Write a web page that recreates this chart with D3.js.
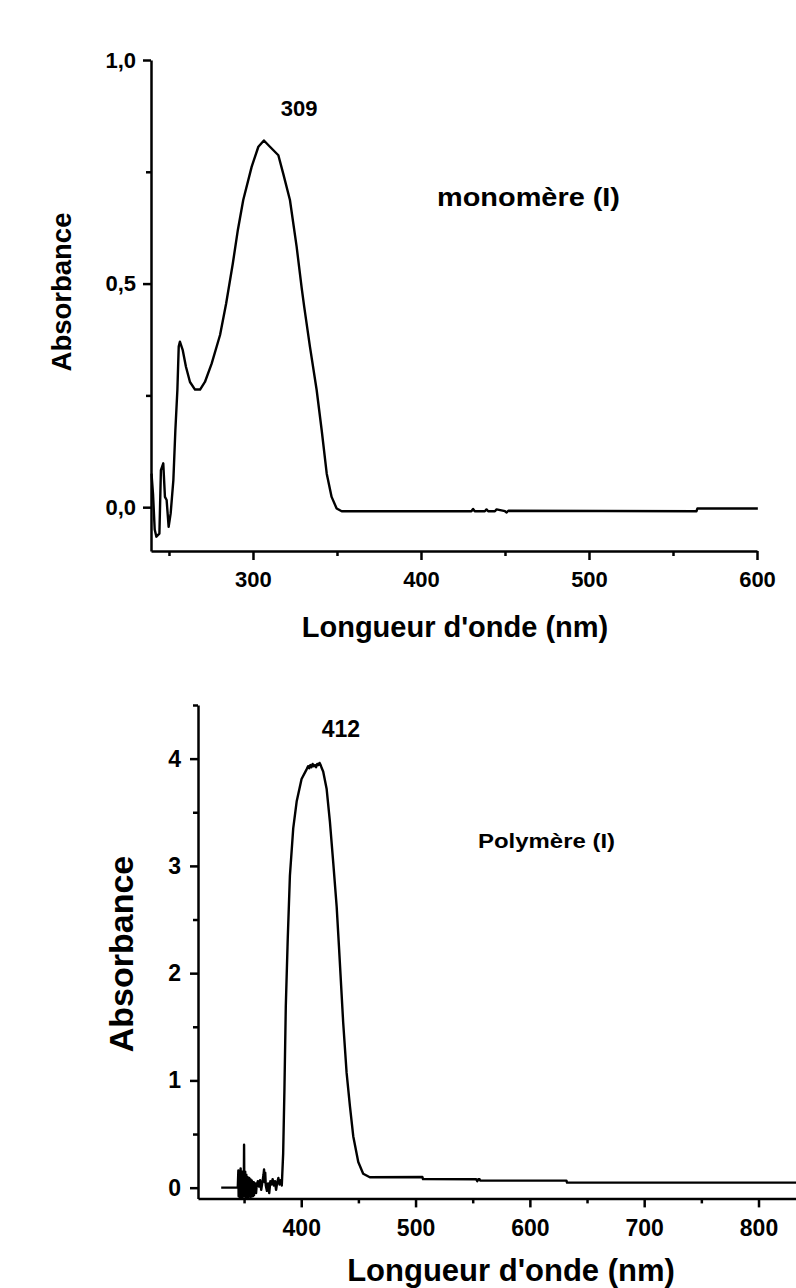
<!DOCTYPE html>
<html>
<head>
<meta charset="utf-8">
<script src="https://cdn.jsdelivr.net/npm/d3@7"></script>
<style>
  body { margin: 0; background: #fff; }
  svg { display: block; font-family: "Liberation Sans", Arial, sans-serif; font-weight: bold; }
</style>
</head>
<body>
<div id="chart"></div>
<script>
// monomère (I) spectrum
var monoNm = [239.6, 240.5, 241.5, 242.5, 243.5, 244.3, 245.2, 246.6, 247.6, 248.6, 249.8, 251, 252.6, 253.8, 255, 255.8, 256.5, 258.2, 260.1, 262.5,
  265.5, 268.5, 271.4, 275.4, 280.4, 284, 288, 291, 294.2, 299.2, 303.2, 306.5, 310.1, 315.1, 318, 322, 326, 329, 330.5, 333.9,
  337.9, 340.9, 343.9, 346.8, 349.8, 352.8, 430, 431, 432, 438, 439, 440, 444, 445, 450, 451, 452, 564, 564.5, 600.5];
var monoAbs = [0.075, 0.03, -0.05, -0.066, -0.062, -0.059, 0.083, 0.098, 0.023, 0.016, -0.044, -0.014, 0.06, 0.172, 0.262, 0.359, 0.37, 0.351, 0.314, 0.28,
  0.263, 0.263, 0.28, 0.321, 0.385, 0.455, 0.545, 0.62, 0.687, 0.761, 0.806, 0.82, 0.806, 0.787, 0.746, 0.687, 0.582, 0.49, 0.448, 0.359,
  0.262, 0.172, 0.075, 0.023, -0.003, -0.009, -0.009, -0.004, -0.009, -0.009, -0.005, -0.009, -0.009, -0.005, -0.009, -0.012, -0.008, -0.009, -0.003, -0.003];

// Polymère (I) spectrum
var polyNm = [330, 344.5,
  345, 345.25, 345.5, 345.75, 346, 346.25, 346.5, 346.75, 347, 347.25, 347.5, 347.75, 348, 348.25, 348.5, 348.75,
  349, 349.25, 349.5, 349.75, 350, 350.25, 350.5, 350.75, 351, 351.25, 351.5, 351.75, 352, 352.25, 352.5, 352.75,
  353, 353.25, 353.5, 353.75, 354, 354.25, 354.5, 354.75, 355, 355.25, 355.5, 355.75, 356, 356.25, 356.5, 356.75,
  357, 357.25, 357.5, 357.75, 358, 358.25, 358.5, 358.75, 359, 359.25, 359.5, 359.75, 360, 360.5,
  361, 362, 363, 364, 365, 366, 367, 367.5, 368, 368.5, 369, 370, 371, 372, 373, 374, 375, 376, 377, 378, 379, 380, 381, 382, 383, 384.2,
  385.3, 386.5, 388.2, 390.1, 393, 396, 400.3, 404.7, 406, 407, 408, 409, 410, 411, 412, 413, 414, 415, 416, 417,
  418, 419.2, 422.2, 425.1, 428, 431, 433, 436.7, 439.7, 442.6, 445.5, 449.9, 454.2, 460, 506, 506.5, 553, 554, 555, 556,
  556.5, 632, 632.5, 833];
var polyAbs = [0, 0,
  0.16, -0.08, 0.10, -0.06, 0.13, -0.09, 0.08, -0.07, 0.18, -0.04, 0.12, -0.09, 0.11, -0.06, 0.15, -0.09,
  0.14, -0.05, 0.09, -0.08, 0.40, -0.08, 0.13, -0.07, 0.15, -0.09, 0.10, -0.06, 0.12, -0.09, 0.08, -0.05,
  0.10, -0.08, 0.07, -0.09, 0.08, -0.06, 0.09, -0.08, 0.06, -0.07, 0.08, -0.09, 0.05, -0.05, 0.07, -0.08,
  0.06, -0.04, 0.04, -0.08, 0.03, -0.06, 0.05, -0.07, 0.02, -0.05, 0.04, -0.03, 0.04, -0.05,
  0.02, 0.06, 0.01, 0.07, -0.02, 0.05, 0.12, 0.17, 0.05, 0.14, 0.02, -0.03, 0.04, -0.05, 0.06, 0.03, 0.08, 0.02, 0.06, -0.02, 0.05, 0.09, 0.03, 0.07, 0.02, 0.32,
  0.91, 1.69, 2.32, 2.91, 3.35, 3.60, 3.81, 3.90, 3.93, 3.91, 3.94, 3.92, 3.95, 3.93, 3.94, 3.92, 3.95, 3.94, 3.96, 3.94,
  3.91, 3.88, 3.72, 3.41, 3.03, 2.62, 2.25, 1.54, 1.07, 0.76, 0.48, 0.24, 0.13, 0.097, 0.10, 0.08, 0.079, 0.06, 0.08, 0.079,
  0.066, 0.066, 0.047, 0.047];

// ticks
var monoMajorX = [300, 400, 500, 600];
var monoMinorX = [250, 350, 450, 550];
var monoMajorY = [0, 0.5, 1.0];
var monoMinorY = [0.25, 0.75];
var polyMajorX = [400, 500, 600, 700, 800];
var polyMinorX = [350, 450, 550, 650, 750];
var polyMajorY = [0, 1, 2, 3, 4];
var polyMinorY = [0.5, 1.5, 2.5, 3.5, 4.5];

var frLocale = d3.formatLocale({ decimal: ",", thousands: " ", grouping: [3], currency: ["", " €"] });

var svg = d3.select("#chart").append("svg")
  .attr("width", 796)
  .attr("height", 1288);

function drawPanel(p) {
  var x = d3.scaleLinear().domain(p.xDomain).range(p.xRange);
  var y = d3.scaleLinear().domain(p.yDomain).range(p.yRange);
  var g = svg.append("g");

  var yPos = p.yRange[0];
  var xPos = p.xRange[0];

  // minor ticks
  g.append("g")
    .attr("transform", "translate(0," + yPos + ")")
    .call(d3.axisBottom(x).tickValues(p.minorX).tickSize(5).tickFormat(""))
    .call(function (a) { a.select(".domain").remove(); });
  g.append("g")
    .attr("transform", "translate(" + xPos + ",0)")
    .call(d3.axisLeft(y).tickValues(p.minorY).tickSize(5).tickFormat(""))
    .call(function (a) { a.select(".domain").remove(); });

  // major ticks
  var xa = g.append("g")
    .attr("transform", "translate(0," + yPos + ")")
    .call(d3.axisBottom(x).tickValues(p.majorX).tickSize(9).tickSizeOuter(0).tickPadding(p.xPad).tickFormat(d3.format("d")));
  var ya = g.append("g")
    .attr("transform", "translate(" + xPos + ",0)")
    .call(d3.axisLeft(y).tickValues(p.majorY).tickSize(8).tickSizeOuter(0).tickPadding(p.yPad).tickFormat(p.yFormat));

  g.selectAll(".tick line").attr("stroke", "#000").attr("stroke-width", 2.5);
  g.selectAll(".domain").attr("stroke", "#000").attr("stroke-width", 2.5);
  xa.selectAll("text").attr("font-size", p.tickFont).attr("font-weight", "bold").attr("fill", "#000");
  ya.selectAll("text").attr("font-size", p.tickFont).attr("font-weight", "bold").attr("fill", "#000");

  var line = d3.line()
    .x(function (d) { return x(d[0]); })
    .y(function (d) { return y(d[1]); });

  g.append("path")
    .datum(d3.zip(p.nm, p.abs))
    .attr("fill", "none")
    .attr("stroke", "#000")
    .attr("stroke-width", 2.4)
    .attr("stroke-linejoin", "round")
    .attr("d", line);

  // axis titles
  g.append("text")
    .attr("transform", "translate(" + p.yTitle[0] + "," + p.yTitle[1] + ") rotate(-90)")
    .attr("text-anchor", "middle")
    .attr("font-size", p.yTitle[2])
    .text("Absorbance");
  g.append("text")
    .attr("x", p.xTitle[0])
    .attr("y", p.xTitle[1])
    .attr("text-anchor", "middle")
    .attr("font-size", p.xTitle[2])
    .text("Longueur d'onde (nm)");

  // peak label
  g.append("text")
    .attr("x", x(p.peak[0]) + p.peak[2])
    .attr("y", p.peak[1])
    .attr("text-anchor", "middle")
    .attr("font-size", p.tickFont)
    .text(p.peak[0]);

  g.append("text")
    .attr("x", p.name[1])
    .attr("y", p.name[2])
    .attr("font-size", p.name[3])
    .attr("textLength", p.name[4])
    .attr("lengthAdjust", p.name[5])
    .text(p.name[0]);
}

drawPanel({
  nm: monoNm, abs: monoAbs,
  xDomain: [239.3, 600], xRange: [151, 757],
  yDomain: [-0.098, 1.0], yRange: [551, 60],
  majorX: monoMajorX, minorX: monoMinorX, majorY: monoMajorY, minorY: monoMinorY,
  xPad: 11, yPad: 7, tickFont: 22,
  yFormat: frLocale.format(".1f"),
  yTitle: [71, 292, 27.5],
  xTitle: [455, 637, 29],
  peak: [309, 116, 31],
  name: ["monomère (I)", 437, 206, 26, 183, "spacingAndGlyphs"]
});

drawPanel({
  nm: polyNm, abs: polyAbs,
  xDomain: [309.7, 832.8], xRange: [198, 796],
  yDomain: [-0.1, 4.5], yRange: [1198.4, 705],
  majorX: polyMajorX, minorX: polyMinorX, majorY: polyMajorY, minorY: polyMinorY,
  xPad: 12, yPad: 9, tickFont: 23,
  yFormat: d3.format("d"),
  yTitle: [133, 954, 34],
  xTitle: [511, 1281, 31],
  peak: [412, 737, 26],
  name: ["Polymère (I)", 478, 848, 20, 137, "spacingAndGlyphs"]
});
</script>
</body>
</html>
